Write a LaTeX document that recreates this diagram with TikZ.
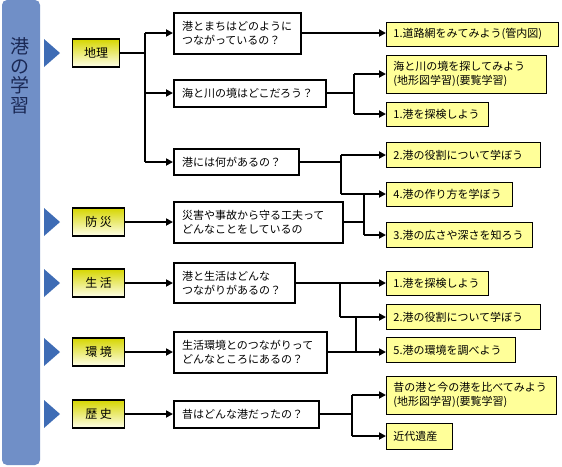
\documentclass[tikz,border=0pt]{standalone}
\usepackage{fontspec}
\setmainfont{Noto Sans CJK JP}
\usetikzlibrary{arrows.meta}

\definecolor{barblue}{RGB}{112,143,199}
\definecolor{triblue}{RGB}{62,108,181}
\definecolor{titlenavy}{RGB}{26,40,84}
\definecolor{notepale}{RGB}{255,255,153}
\definecolor{cattop}{RGB}{214,214,0}
\definecolor{catbot}{RGB}{255,255,235}

\begin{document}
\begin{tikzpicture}[x=1pt,y=-1pt,
    line/.style={line width=2pt},
    arr/.style={line width=2pt,-{Triangle[length=7pt,width=7pt]}},
    cat/.style={draw,line width=1.3pt,anchor=west,minimum height=28pt,inner sep=0pt,
        top color=cattop,bottom color=catbot,font=\fontsize{12pt}{14pt}\selectfont},
    qbox/.style={draw,line width=2pt,fill=white,anchor=west,inner xsep=8pt,inner ysep=0pt,
        align=left,font=\fontsize{11pt}{14pt}\selectfont},
    note/.style={draw,line width=0.8pt,fill=notepale,anchor=west,inner xsep=7pt,inner ysep=0pt,
        align=left,font=\fontsize{11pt}{13.5pt}\selectfont}]

    \useasboundingbox (0,0) rectangle (562,466);

    \fill[barblue,rounded corners=5pt] (2,0) rectangle (40,465);
    \node[text=titlenavy,align=center,font=\fontsize{19pt}{19.5pt}\selectfont] (title) at (20,76) {港\\の\\学\\習};

    \foreach \ty in {53,222,283,352,414}
        \fill[triblue] (44,\ty-14) -- (60,\ty) -- (44,\ty+14) -- cycle;

    \node[cat,minimum width=47pt] (geo) at (72,53) {地理};
    \node[cat,minimum width=52pt] (bosai) at (72,222) {防 災};
    \node[cat,minimum width=52pt] (life) at (72,283) {生 活};
    \node[cat,minimum width=52pt] (env) at (72,352) {環 境};
    \node[cat,minimum width=52pt] (hist) at (72,414) {歴 史};

    \node[qbox,text width=111pt,minimum height=41pt] (q1) at (173,33) {港とまちはどのように\\つながっているの？};
    \node[qbox,text width=136pt,minimum height=27pt] (q2) at (173,93) {海と川の境はどこだろう？};
    \node[qbox,text width=109pt,minimum height=26pt] (q3) at (173,162) {港には何があるの？};
    \node[qbox,text width=153pt,minimum height=41pt] (q4) at (173,222) {災害や事故から守る工夫って\\どんなことをしているの};
    \node[qbox,text width=105pt,minimum height=40pt] (q5) at (173,283) {港と生活はどんな\\つながりがあるの？};
    \node[qbox,text width=137pt,minimum height=41pt] (q6) at (173,352) {生活環境とのつながりって\\どんなところにあるの？};
    \node[qbox,text width=129pt,minimum height=27pt] (q7) at (173,414) {昔はどんな港だったの？};

    \node[note,text width=158pt,minimum height=24pt] (r1) at (386,34) {1.道路網をみてみよう(管内図)};
    \node[note,text width=146pt,minimum height=38pt] (r2) at (386,74) {海と川の境を探してみよう\\(地形図学習)(要覧学習)};
    \node[note,text width=88pt,minimum height=24pt] (r3) at (386,114) {1.港を探検しよう};
    \node[note,text width=140pt,minimum height=25pt] (r4) at (386,155) {2.港の役割について学ぼう};
    \node[note,text width=112pt,minimum height=24pt] (r5) at (386,194) {4.港の作り方を学ぼう};
    \node[note,text width=132pt,minimum height=25pt] (r6) at (386,235) {3.港の広さや深さを知ろう};
    \node[note,text width=88pt,minimum height=24pt] (r7) at (386,283) {1.港を探検しよう};
    \node[note,text width=140pt,minimum height=25pt] (r8) at (386,317) {2.港の役割について学ぼう};
    \node[note,text width=115pt,minimum height=25pt] (r9) at (386,350) {5.港の環境を調べよう};
    \node[note,text width=156pt,minimum height=38pt] (r10) at (386,395) {昔の港と今の港を比べてみよう\\(地形図学習)(要覧学習)};
    \node[note,text width=52pt,minimum height=26pt] (r11) at (386,436) {近代遺産};

    \coordinate (t1) at (145,53);
    \draw[line] (geo) -- (t1);
    \draw[line] (t1 |- q1) -- (t1 |- q3);
    \draw[arr] (t1 |- q1) -- (q1);
    \draw[arr] (t1 |- q2) -- (q2);
    \draw[arr] (t1 |- q3) -- (q3);

    \draw[arr] (bosai) -- (q4);
    \draw[arr] (life) -- (q5);
    \draw[arr] (env) -- (q6);
    \draw[arr] (hist) -- (q7);

    \draw[arr] (q1) -- (q1 -| r1.west);

    \coordinate (f2) at (354,93);
    \draw[line] (q2) -- (f2);
    \draw[line] (f2 |- r2) -- (f2 |- r3);
    \draw[arr] (f2 |- r2) -- (r2);
    \draw[arr] (f2 |- r3) -- (r3);

    \coordinate (f3) at (341,162);
    \draw[line] (q3) -- (f3);
    \draw[line] (f3 |- r4) -- (f3 |- r5);
    \draw[arr] (f3 |- r4) -- (r4);
    \draw[arr] (f3 |- r5) -- (r5);

    \coordinate (f4) at (364,222);
    \draw[line] (q4) -- (f4);
    \draw[line] (f4 |- r5) -- (f4 |- r6);
    \draw[arr] (f4 |- r6) -- (r6);

    \coordinate (f5) at (340,283);
    \draw[arr] (q5) -- (q5 -| r7.west);
    \draw[line] (f5) -- (f5 |- r8);
    \draw[arr] (f5 |- r8) -- (r8);

    \coordinate (f6) at (356,352);
    \draw[arr] (q6) -- (q6 -| r9.west);
    \draw[line] (f6) -- (f6 |- r8);

    \coordinate (f7) at (352,414);
    \draw[line] (q7) -- (f7);
    \draw[line] (f7 |- r10) -- (f7 |- r11);
    \draw[arr] (f7 |- r10) -- (r10);
    \draw[arr] (f7 |- r11) -- (r11);

\end{tikzpicture}
\end{document}
